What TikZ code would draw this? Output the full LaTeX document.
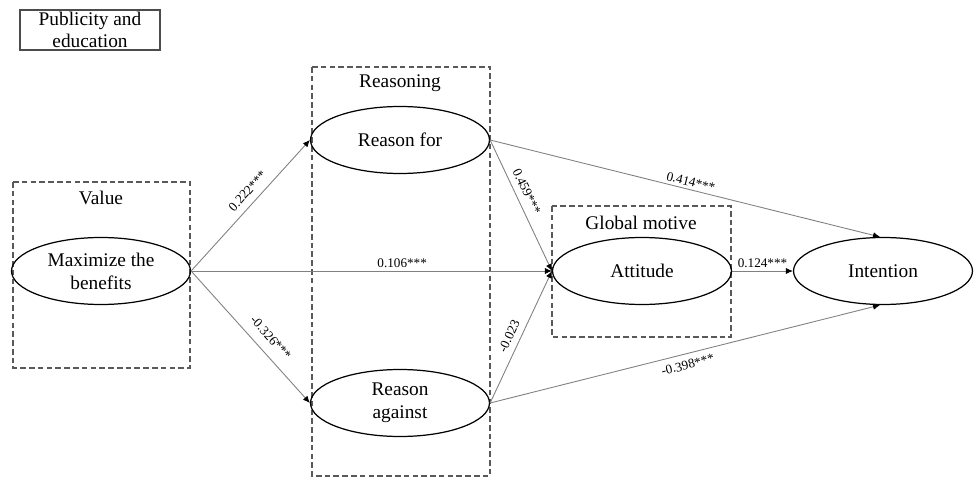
\documentclass[tikz,border=0pt]{standalone}
\usepackage{fontspec}
\setmainfont{Liberation Serif}
\usetikzlibrary{arrows.meta,shapes.geometric}

\tikzset{
  construct/.style={draw, ellipse, line width=0.7pt, inner sep=0pt, align=center,
    minimum width=3.58cm, minimum height=1.34cm, font=\fontsize{11}{13}\selectfont},
  groupbox/.style={draw=black!65, line width=0.8pt, dash pattern=on 3.2pt off 1.8pt},
  grouplabel/.style={font=\fontsize{11}{13}\selectfont},
  effect/.style={draw=black!50, line width=0.5pt, -{Latex[length=4pt,width=3.5pt,color=black]}},
  coef/.style={font=\fontsize{7.5}{9}\selectfont, inner sep=1.5pt, sloped}
}

\begin{document}
\begin{tikzpicture}[x=0.02cm, y=-0.02cm]
\useasboundingbox (0,0) rectangle (976,479);
\node[draw=black!70, line width=0.6pt, minimum width=2.8cm, minimum height=0.8cm, inner sep=0pt,
  align=center, font=\fontsize{11}{12.5}\selectfont] (publicity) at (90,30) {Publicity and\\education};

% dashed groups
\draw[groupbox] (13,182) rectangle (190,368);
\node[grouplabel] (valuelbl) at (101,198) {Value};
\draw[groupbox] (312,67) rectangle (490,476);
\node[grouplabel] (reasoninglbl) at (400,83) {Reasoning};
\draw[groupbox] (552,206) rectangle (731,337);
\node[grouplabel] (globallbl) at (641,223) {Global motive};

% constructs
\node[construct] (maxben) at (101,271) {Maximize the\\benefits};
\node[construct] (reasonfor) at (400,140) {Reason for};
\node[construct] (reasonagainst) at (400,403) {Reason\\against};
\node[construct] (attitude) at (642,271) {Attitude};
\node[construct] (intention) at (883,271) {Intention};

% paths
\draw[effect] (maxben.east) -- node[coef, above=2.5pt, pos=0.55] (b1) {0.222***} (reasonfor.west);
\draw[effect] (maxben.east) -- node[coef, above=4pt, pos=0.58] (b2) {-0.326***} (reasonagainst.west);
\draw[effect] (maxben.east) -- node[coef, above, pos=0.585] (b3) {0.106***} (attitude.west);
\draw[effect] (reasonfor.east) -- node[coef, above=2pt, pos=0.43] (b4) {0.459***} (attitude.west);
\draw[effect] (reasonagainst.east) -- node[coef, above=2pt, pos=0.47] (b5) {-0.023} (attitude.west);
\draw[effect] (reasonfor.east) -- node[coef, above, pos=0.51] (b6) {0.414***} (intention.95);
\draw[effect] (reasonagainst.east) -- node[coef, below=2pt, pos=0.5] (b7) {-0.398***} (intention.265);
\draw[effect] (attitude.east) -- node[coef, above, pos=0.5] (b8) {0.124***} (intention.west);
\end{tikzpicture}
\end{document}
